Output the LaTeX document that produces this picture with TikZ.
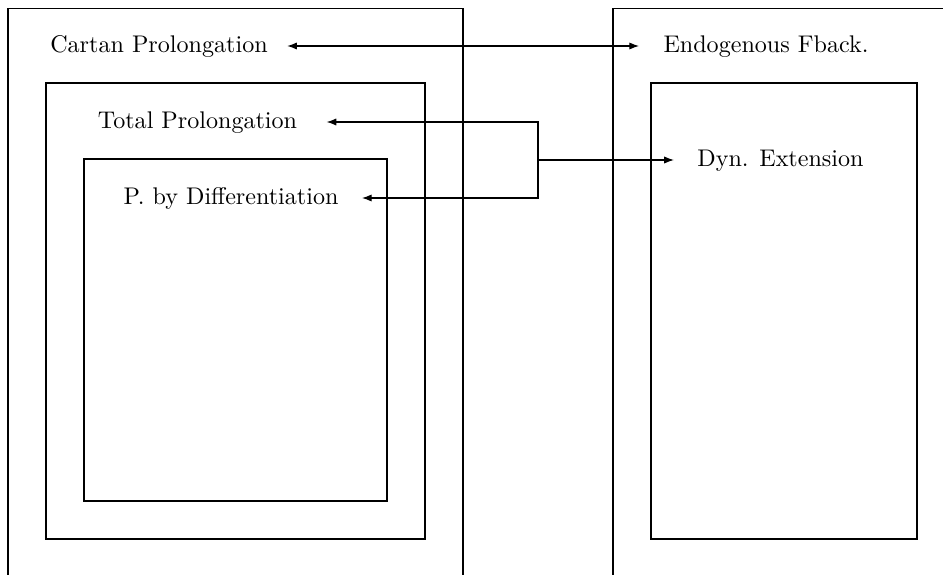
\documentclass[tikz,border=0pt]{standalone}
\usetikzlibrary{arrows.meta,calc}
\begin{document}
\begin{tikzpicture}[x=0.415pt,y=-0.415pt, line width=0.45pt,
  lbl/.style={inner sep=0pt, anchor=center, text height=7pt, text depth=2pt},
  tip/.style={-{Latex[length=4pt,width=3pt]}},
  twotip/.style={{Latex[length=4pt,width=3pt]}-{Latex[length=4pt,width=3pt]}}]
\useasboundingbox (0,0) rectangle (943,575);
\clip (0,8.4) rectangle (943,575);
% panels and boxes
\draw (8,8) rectangle (463,620);
\draw (613,8) rectangle (980,620);
\draw (46,83) rectangle (425,539);
\draw (84,159) rectangle (387,501);
\draw (651,83) rectangle (917,539);
% labels
\node[lbl] (cartan) at (159,46) {Cartan Prolongation};
\node[lbl] (endo) at (766,46) {Endogenous Fback.};
\node[lbl] (tot) at (197.5,122) {Total Prolongation};
\node[lbl] (pdiff) at (231,198) {P. by Differentiation};
\node[lbl] (dyn) at (780.5,160) {Dyn. Extension};
% connectors
\draw[twotip] ($(cartan.east)+(19,0)$) -- ($(endo.west)+(-24,0)$);
\coordinate (j) at (538,160);
\draw[tip] (j) |- ($(tot.east)+(29,0)$);
\draw[tip] (j) |- ($(pdiff.east)+(23,0)$);
\draw[tip] (j) -- ($(dyn.west)+(-23,0)$);
\end{tikzpicture}
\end{document}
